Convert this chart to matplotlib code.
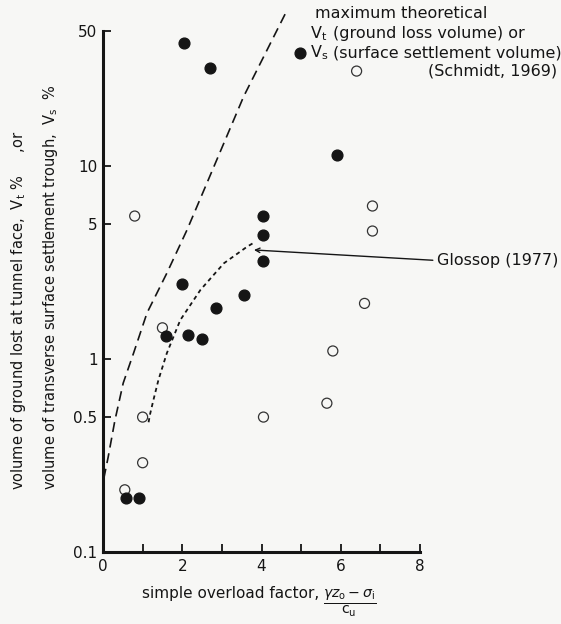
import numpy as np
import matplotlib.pyplot as plt
from matplotlib.ticker import FixedLocator, FixedFormatter, MultipleLocator, NullLocator

plt.rcParams['font.family'] = 'DejaVu Sans'
plt.rcParams['mathtext.fontset'] = 'dejavusans'

ink = '#151515'

# closed circles
solid_x = [2.05, 2.7, 4.97, 5.9, 4.05, 4.05, 4.05, 2.0, 3.55, 2.85, 1.6, 2.15, 2.5, 0.57, 0.92]
solid_y = [43.5, 32, 38.5, 11.4, 5.5, 4.4, 3.2, 2.45, 2.15, 1.84, 1.32, 1.33, 1.27, 0.19, 0.19]

# open circles
open_x = [6.4, 0.8, 6.8, 6.8, 6.6, 1.5, 5.8, 5.65, 4.05, 1.0, 1.0, 0.55]
open_y = [31, 5.5, 6.2, 4.6, 1.94, 1.45, 1.1, 0.59, 0.5, 0.5, 0.29, 0.21]

# maximum theoretical volume (Schmidt, 1969)
schmidt_x = [0.02, 0.13, 0.30, 0.51, 0.77, 1.11, 1.61, 2.12, 2.46, 3.55, 4.61]
schmidt_y = [0.24, 0.31, 0.48, 0.75, 1.07, 1.73, 2.78, 4.66, 6.8, 22.9, 62]

# Glossop (1977) curve
glossop_x = [1.15, 1.19, 1.27, 1.40, 1.61, 1.95, 2.46, 3.05, 3.64, 3.85]
glossop_y = [0.47, 0.52, 0.61, 0.78, 1.07, 1.59, 2.28, 3.13, 3.82, 4.05]

y_ticks = [0.1, 0.5, 1, 5, 10, 50]
y_ticklabels = ['0.1', '0.5', '1', '5', '10', '50']
x_ticks = [0, 2, 4, 6, 8]


def fx(px):
    return px / 561


def fy(py):
    return 1 - py / 624


fig = plt.figure(figsize=(5.61, 6.24), dpi=100, facecolor='#f7f7f5')
ax = fig.add_axes([103 / 561, 1 - 552 / 624, 317 / 561, 521 / 624])
ax.set_facecolor('none')

ax.plot(schmidt_x, schmidt_y, color=ink, lw=1.2, ls=(0, (6, 3.5)), clip_on=False)
ax.plot(glossop_x, glossop_y, color=ink, lw=1.3, ls=(0, (2.3, 2)))

ax.scatter(open_x, open_y, s=52, facecolors='none', edgecolors='#333333',
           linewidths=0.9, zorder=3, clip_on=False)
ax.scatter(solid_x, solid_y, s=60, color=ink, zorder=4, clip_on=False)

ax.set_yscale('log')
ax.set_xlim(0, 8)
ax.set_ylim(0.1, 50)
ax.yaxis.set_major_locator(FixedLocator(y_ticks))
ax.yaxis.set_major_formatter(FixedFormatter(y_ticklabels))
ax.yaxis.set_minor_locator(NullLocator())
ax.xaxis.set_major_locator(FixedLocator(x_ticks))
ax.xaxis.set_minor_locator(MultipleLocator(1))

for side in ['top', 'right']:
    ax.spines[side].set_visible(False)
for side in ['left', 'bottom']:
    ax.spines[side].set_linewidth(2.2)
    ax.spines[side].set_color(ink)

ax.tick_params(which='both', direction='in', length=6, width=1.3, color=ink,
               labelsize=11, labelcolor=ink)
ax.tick_params(axis='x', pad=5)
ax.tick_params(axis='y', pad=4)

# axis titles
fig.text(fx(23), fy(490), r'volume of ground lost at tunnel face,  V$_\mathrm{t}$ %     ,or',
         rotation=90, rotation_mode='anchor', ha='left', va='baseline',
         fontsize=10.5, color=ink)
fig.text(fx(55), fy(490), r'volume of transverse surface settlement trough,  V$_\mathrm{s}$  %',
         rotation=90, rotation_mode='anchor', ha='left', va='baseline',
         fontsize=10.5, color=ink)
fig.text(fx(142), fy(598), 'simple overload factor,', ha='left', va='baseline',
         fontsize=11, color=ink)
fig.text(fx(350), fy(603), r'$\frac{\gamma z_\mathrm{o} - \sigma_\mathrm{i}}{\mathrm{c_u}}$',
         ha='center', va='center', fontsize=14.5, color=ink)

# Schmidt label
fig.text(fx(315), fy(18), 'maximum theoretical', ha='left', va='baseline',
         fontsize=11.5, color=ink)
fig.text(fx(310), fy(38), r'V$_\mathrm{t}$', ha='left', va='baseline', fontsize=11.5, color=ink)
fig.text(fx(333), fy(38), '(ground loss volume) or', ha='left', va='baseline',
         fontsize=11.5, color=ink)
fig.text(fx(310), fy(57), r'V$_\mathrm{s}$', ha='left', va='baseline', fontsize=11.5, color=ink)
fig.text(fx(333), fy(57), '(surface settlement volume)', ha='left', va='baseline',
         fontsize=11.5, color=ink)
fig.text(fx(557), fy(76), '(Schmidt, 1969)', ha='right', va='baseline',
         fontsize=11.5, color=ink)

ax.annotate('Glossop (1977)', xy=(3.81, 3.67), xycoords='data',
            xytext=(437, 624 - 265), textcoords='figure pixels',
            ha='left', va='baseline', fontsize=11.5, color=ink,
            arrowprops=dict(arrowstyle='->', lw=1.0, color=ink, relpos=(0, 0.5),
                            shrinkA=1, shrinkB=0, mutation_scale=8))

fig.savefig('out.png', dpi=100, facecolor=fig.get_facecolor())
